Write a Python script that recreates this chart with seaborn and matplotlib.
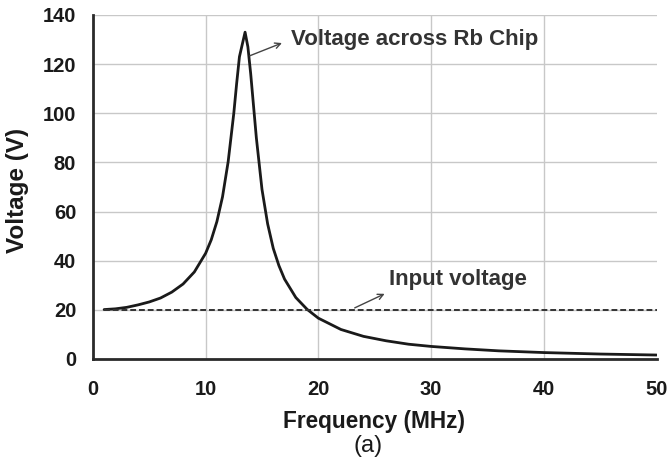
import numpy as np
import pandas as pd
import seaborn as sns
import matplotlib.pyplot as plt

# values
freq = [1, 2, 3, 4, 5, 6, 7, 8, 9, 10, 10.5, 11, 11.5, 12, 12.5, 12.75, 13, 13.5, 13.75,
        14, 14.5, 15, 15.5, 16, 16.5, 17, 18, 19, 20, 22, 24, 26, 28, 30, 33, 36, 40, 45, 50]
volt_chip = [20.1, 20.4, 21.0, 22.0, 23.2, 24.8, 27.2, 30.5, 35.4, 43.0, 48.5, 55.9, 66.0,
             80.3, 100.0, 112.0, 123.0, 133.0, 127.0, 116.0, 90.0, 69.0, 55.0, 45.0, 38.0,
             32.5, 25.0, 20.2, 16.6, 12.0, 9.2, 7.4, 6.0, 5.1, 4.1, 3.3, 2.6, 2.0, 1.6]
input_freq = [1, 50]
input_volt = [20, 20]

x_ticks = [0, 10, 20, 30, 40, 50]
y_ticks = [0, 20, 40, 60, 80, 100, 120, 140]

sns.set_style("whitegrid")
plt.rcParams['font.family'] = ['Liberation Sans', 'DejaVu Sans']

fig = plt.figure(figsize=(6.68, 4.68), dpi=100)
ax = fig.add_axes([0.139, 0.233, 0.844, 0.735])

df = pd.DataFrame({"f": freq, "v": volt_chip})
sns.lineplot(data=df, x="f", y="v", ax=ax, color="#1a1a1a", linewidth=2)
ax.plot(input_freq, input_volt, color="#333333", linestyle=(0, (3, 1.5)), linewidth=1.4)

ax.set_xlim(0, 50)
ax.set_ylim(0, 140)
ax.set_xticks(x_ticks)
ax.set_yticks(y_ticks)
ax.grid(True, color="#c8c8c8", linewidth=1)
ax.get_xgridlines()[-1].set_visible(False)
for s in ["top", "right"]:
    ax.spines[s].set_visible(False)
for s in ["left", "bottom"]:
    ax.spines[s].set_color("#2a2a2a")
    ax.spines[s].set_linewidth(2)
ax.tick_params(axis="x", length=0, pad=15, labelsize=14.5, labelcolor="#1a1a1a")
ax.tick_params(axis="y", length=0, pad=12, labelsize=14.5, labelcolor="#1a1a1a")
for lab in ax.get_xticklabels() + ax.get_yticklabels():
    lab.set_fontweight("bold")

ax.set_xlabel("Frequency (MHz)", fontsize=16.3, fontweight="bold", color="#1a1a1a", va="center")
ax.set_ylabel("Voltage (V)", fontsize=17.5, fontweight="bold", color="#1a1a1a", va="center")
ax.xaxis.set_label_coords(0.498, -0.183)
ax.yaxis.set_label_coords(-0.133, 0.49)

fig.text(0.551, 0.047, "(a)", fontsize=17, ha="center", va="center", color="#1a1a1a")

arrow = dict(arrowstyle="->", color="#444444", lw=1)
ax.annotate("", xy=(17.0, 129), xytext=(13.7, 123), arrowprops=arrow)
ax.text(17.6, 130, "Voltage across Rb Chip", fontsize=16, fontweight="bold",
        color="#333333", va="center", ha="left")
ax.annotate("", xy=(26.1, 27), xytext=(23.0, 20.3), arrowprops=arrow)
ax.text(26.3, 32.5, "Input voltage", fontsize=16, fontweight="bold",
        color="#333333", va="center", ha="left")

fig.savefig("out.png", dpi=100)
